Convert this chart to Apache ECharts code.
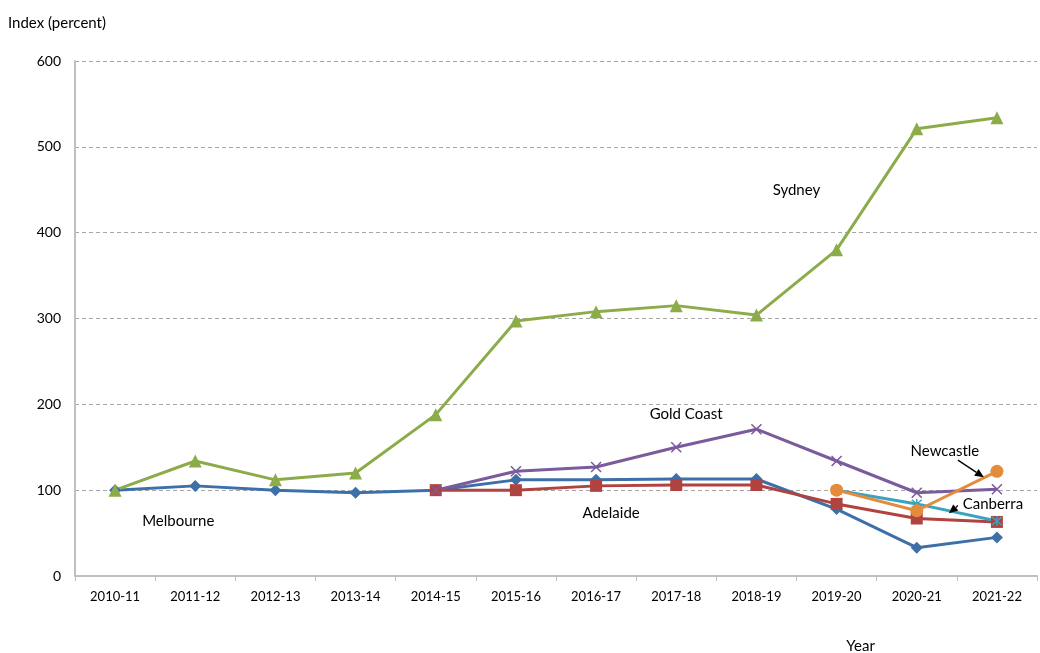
<!DOCTYPE html>
<html>
<head>
<meta charset="utf-8">
<script src="https://cdn.jsdelivr.net/npm/echarts@6/dist/echarts.min.js"></script>
<style>
  html, body { margin: 0; padding: 0; background: #fff; }
  #chart { width: 1040px; height: 653px; }
</style>
</head>
<body>
<div id="chart"></div>
<script>
// Financial years on the category axis
const years = ['2010-11', '2011-12', '2012-13', '2013-14', '2014-15', '2015-16',
               '2016-17', '2017-18', '2018-19', '2019-20', '2020-21', '2021-22'];

// Index values (percent); null where a city is not yet tracked
const melbourne = [100, 105, 100, 97, 100, 112, 112, 113, 113, 78, 33, 45];
const sydney    = [100, 134, 112, 120, 188, 297, 308, 315, 304, 380, 521, 534];
const adelaide  = [null, null, null, null, 100, 100, 105, 106, 106, 84, 67, 63];
const goldCoast = [null, null, null, null, 100, 122, 127, 150, 171, 134, 97, 101];
const canberra  = [null, null, null, null, null, null, null, null, null, 100, 84, 64];
const newcastle = [null, null, null, null, null, null, null, null, null, 100, 76, 122];

const yTicks = [0, 100, 200, 300, 400, 500, 600];

const FONT = 'Lato, "Open Sans", sans-serif';

const crossPath = 'path://M0,0L10,10M10,0L0,10';
const asteriskPath = 'path://M0,0L10,10M10,0L0,10M5,-1L5,11';

function lineSeries(name, data, color, symbol, size, extra) {
  return Object.assign({
    name: name,
    type: 'line',
    data: data,
    symbol: symbol,
    symbolSize: size,
    showAllSymbol: true,
    connectNulls: false,
    lineStyle: { color: color, width: 3 },
    itemStyle: { color: color },
    emphasis: { disabled: true },
    animation: false
  }, extra || {});
}

const chart = echarts.init(document.getElementById('chart'));
chart.setOption({
  backgroundColor: '#ffffff',
  textStyle: { fontFamily: FONT },
  grid: { left: 75, right: 3, top: 61, bottom: 77, containLabel: false, outerBoundsMode: 'none' },
  xAxis: {
    type: 'category',
    data: years,
    boundaryGap: true,
    axisLine: { lineStyle: { color: '#bfbfbf', width: 2 } },
    axisTick: { show: true, length: 5, lineStyle: { color: '#bfbfbf' } },
    axisLabel: { color: '#000', fontSize: 13, margin: 14, fontFamily: FONT }
  },
  yAxis: {
    type: 'value',
    min: yTicks[0],
    max: yTicks[yTicks.length - 1],
    interval: 100,
    axisLine: { show: true, lineStyle: { color: '#bfbfbf', width: 2 } },
    axisTick: { show: false },
    axisLabel: { color: '#000', fontSize: 14, margin: 14, fontFamily: FONT },
    splitLine: { lineStyle: { color: '#a6a6a6', type: [4, 3], width: 1 } },
    name: 'Index (percent)',
    nameLocation: 'end',
    nameGap: 30,
    nameTextStyle: { color: '#000', fontSize: 15, fontFamily: FONT, align: 'left', padding: [0, 0, 0, -67] }
  },
  series: [
    lineSeries('Melbourne', melbourne, '#3d6fa9', 'diamond', 12),
    lineSeries('Sydney', sydney, '#8cac4a', 'triangle', 13),
    lineSeries('Adelaide', adelaide, '#b0423f', 'rect', 12),
    lineSeries('Gold Coast', goldCoast, '#7a5b9c', crossPath, 10,
      { itemStyle: { color: 'transparent', borderColor: '#7a5b9c', borderWidth: 1.5 } }),
    lineSeries('Canberra', canberra, '#3aa3bd', asteriskPath, 10,
      { itemStyle: { color: 'transparent', borderColor: '#3aa3bd', borderWidth: 1.5 } }),
    lineSeries('Newcastle', newcastle, '#e58b3c', 'circle', 13)
  ]
});

// Series name labels and pointer arrows placed in data coordinates
function px(cat, val) { return chart.convertToPixel({ gridIndex: 0 }, [cat, val]); }

const labelStyle = { fill: '#000', fontSize: 15, fontFamily: FONT, align: 'center', verticalAlign: 'middle' };
const labels = [
  { text: 'Sydney',     at: ['2018-19', 450], dx: 40 },
  { text: 'Gold Coast', at: ['2016-17', 188], dx: 90 },
  { text: 'Adelaide',   at: ['2016-17', 73],  dx: 15 },
  { text: 'Melbourne',  at: ['2011-12', 64],  dx: -17 },
  { text: 'Newcastle',  at: ['2021-22', 146], dx: -52 },
  { text: 'Canberra',   at: ['2021-22', 84],  dx: -4 }
];

const graphics = labels.map(l => {
  const p = px(l.at[0], l.at[1]);
  return { type: 'text', x: p[0] + l.dx, y: p[1], style: Object.assign({ text: l.text }, labelStyle), z: 100 };
});

// x-axis title, set to the right of centre
const yearPos = px('2019-20', 0);
graphics.push({ type: 'text', x: yearPos[0] + 24, y: yearPos[1] + 70,
  style: Object.assign({ text: 'Year' }, labelStyle), z: 100 });

function arrow(from, to) {
  const a = px(from[0], from[1]);
  const b = px(to[0], to[1]);
  const ax = a[0] + from[2], ay = a[1];
  const bx = b[0] + to[2], by = b[1];
  const ang = Math.atan2(by - ay, bx - ax);
  const L = 9, W = 4;
  const hx = bx - L * Math.cos(ang), hy = by - L * Math.sin(ang);
  const nx = -Math.sin(ang) * W, ny = Math.cos(ang) * W;
  graphics.push({ type: 'line', shape: { x1: ax, y1: ay, x2: hx, y2: hy }, style: { stroke: '#000', lineWidth: 1.3 }, z: 100 });
  graphics.push({ type: 'polygon', shape: { points: [[bx, by], [hx + nx, hy + ny], [hx - nx, hy - ny]] }, style: { fill: '#000' }, z: 100 });
}
arrow(['2021-22', 135, -39], ['2021-22', 115, -13]);
arrow(['2021-22', 82, -39], ['2021-22', 73, -48]);

chart.setOption({ graphic: graphics });
</script>
</body>
</html>
